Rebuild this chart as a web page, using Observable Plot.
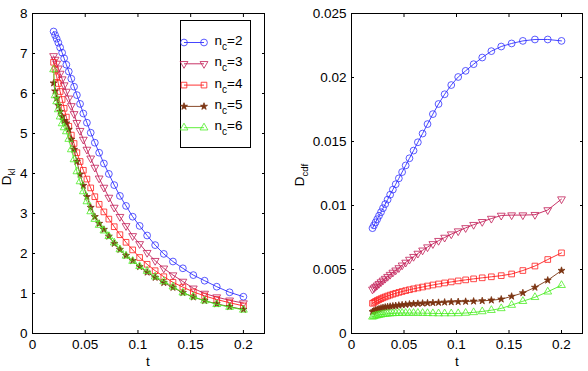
<!DOCTYPE html>
<html>
<head>
<meta charset="utf-8">
<script src="https://cdn.jsdelivr.net/npm/d3@7"></script>
<script src="https://cdn.jsdelivr.net/npm/@observablehq/plot@0.6"></script>
<style>
  body { margin: 0; background: #fff; }
  #wrap { position: relative; width: 588px; height: 371px; overflow: hidden; font-family: "Liberation Sans", Arial, Helvetica, sans-serif; }
  #wrap > svg { position: absolute; top: 0; }
</style>
</head>
<body>
<div id="wrap"></div>
<script>
// ---- data ----
const tValues = [0.02, 0.0214, 0.0229, 0.0245, 0.0262, 0.0281, 0.0300, 0.0321, 0.0344, 0.0368,
  0.0394, 0.0421, 0.0451, 0.0482, 0.0516, 0.0552, 0.0591, 0.0632, 0.0677, 0.0724,
  0.0775, 0.0829, 0.0887, 0.0950, 0.1016, 0.1087, 0.1163, 0.1245, 0.1332, 0.1426,
  0.1525, 0.1632, 0.1747, 0.1869, 0.2];

const ncValues = [2, 3, 4, 5, 6];

const dklNc2 = [7.55, 7.46, 7.37, 7.27, 7.15, 7.02, 6.88, 6.72, 6.55, 6.37, 6.17, 5.96, 5.74, 5.50, 5.27, 5.02, 4.77, 4.52, 4.25, 3.99, 3.71, 3.44, 3.19, 2.92, 2.69, 2.45, 2.21, 1.99, 1.80, 1.63, 1.46, 1.32, 1.17, 1.03, 0.92];
const dklNc3 = [6.94, 6.85, 6.75, 6.63, 6.50, 6.36, 6.21, 6.05, 5.88, 5.69, 5.49, 5.27, 5.07, 4.85, 4.60, 4.38, 4.15, 3.88, 3.65, 3.40, 3.15, 2.92, 2.69, 2.44, 2.24, 2.02, 1.82, 1.63, 1.46, 1.30, 1.13, 1.00, 0.91, 0.83, 0.76];
const dklNc4 = [6.78, 6.60, 6.42, 6.25, 6.05, 5.85, 5.63, 5.41, 5.18, 4.96, 4.75, 4.52, 4.30, 4.08, 3.86, 3.64, 3.42, 3.23, 3.04, 2.86, 2.67, 2.47, 2.28, 2.09, 1.90, 1.73, 1.57, 1.42, 1.28, 1.16, 1.04, 0.94, 0.85, 0.77, 0.69];
const dklNc5 = [6.26, 6.06, 5.88, 5.70, 5.55, 5.42, 5.32, 5.26, 5.10, 4.85, 4.60, 4.30, 3.98, 3.70, 3.42, 3.15, 2.92, 2.75, 2.60, 2.43, 2.25, 2.10, 1.95, 1.82, 1.67, 1.53, 1.40, 1.27, 1.15, 1.02, 0.91, 0.82, 0.74, 0.67, 0.60];
const dklNc6 = [6.60, 5.95, 5.80, 5.60, 5.42, 5.25, 5.15, 5.05, 4.86, 4.60, 4.35, 4.05, 3.80, 3.55, 3.30, 3.05, 2.86, 2.71, 2.57, 2.43, 2.27, 2.10, 1.94, 1.81, 1.68, 1.56, 1.42, 1.30, 1.17, 1.02, 0.92, 0.82, 0.73, 0.66, 0.59];

const dcdfNc2 = [0.00823, 0.00845, 0.00868, 0.00893, 0.00920, 0.00948, 0.00979, 0.01011, 0.01046, 0.01084, 0.01124, 0.01166, 0.01212, 0.01261, 0.01313, 0.01369, 0.01429, 0.01494, 0.01562, 0.01636, 0.01714, 0.01793, 0.01869, 0.01941, 0.02004, 0.02052, 0.02104, 0.02156, 0.02206, 0.02242, 0.02266, 0.02286, 0.02297, 0.02297, 0.02286];
const dcdfNc3 = [0.00345, 0.00355, 0.00366, 0.00377, 0.00389, 0.00402, 0.00415, 0.00429, 0.00444, 0.00460, 0.00477, 0.00494, 0.00512, 0.00533, 0.00555, 0.00578, 0.00600, 0.00625, 0.00650, 0.00675, 0.00700, 0.00725, 0.00750, 0.00776, 0.00800, 0.00825, 0.00850, 0.00873, 0.00898, 0.00922, 0.00925, 0.00925, 0.00928, 0.00965, 0.01050];
const dcdfNc4 = [0.00236, 0.00243, 0.00251, 0.00258, 0.00265, 0.00272, 0.00279, 0.00286, 0.00293, 0.00300, 0.00307, 0.00314, 0.00321, 0.00328, 0.00335, 0.00342, 0.00349, 0.00356, 0.00363, 0.00371, 0.00379, 0.00387, 0.00395, 0.00403, 0.00411, 0.00419, 0.00427, 0.00435, 0.00443, 0.00452, 0.00465, 0.00492, 0.00527, 0.00578, 0.00630];
const dcdfNc5 = [0.00170, 0.00176, 0.00182, 0.00187, 0.00192, 0.00197, 0.00201, 0.00205, 0.00208, 0.00211, 0.00214, 0.00217, 0.00220, 0.00223, 0.00226, 0.00229, 0.00232, 0.00234, 0.00236, 0.00238, 0.00240, 0.00242, 0.00244, 0.00246, 0.00248, 0.00250, 0.00252, 0.00255, 0.00260, 0.00268, 0.00290, 0.00317, 0.00360, 0.00416, 0.00492];
const dcdfNc6 = [0.00130, 0.00134, 0.00138, 0.00141, 0.00144, 0.00147, 0.00150, 0.00152, 0.00154, 0.00156, 0.00157, 0.00158, 0.00159, 0.00160, 0.00160, 0.00160, 0.00160, 0.00160, 0.00159, 0.00158, 0.00157, 0.00156, 0.00156, 0.00156, 0.00157, 0.00160, 0.00165, 0.00172, 0.00182, 0.00196, 0.00222, 0.00252, 0.00283, 0.00326, 0.00377];

const xTicks = [0, 0.05, 0.1, 0.15, 0.2];
const dklTicks = [0, 1, 2, 3, 4, 5, 6, 7, 8];
const dcdfTicks = [0, 0.005, 0.01, 0.015, 0.02, 0.025];

// ---- styles ----
const colors = ["#3030ff", "#c21d57", "#ff1c1c", "#7b3411", "#4cee25"];
const triangleDown = {
  draw(context, size) {
    const s3 = Math.sqrt(3);
    const y = -Math.sqrt(size / (s3 * 3));
    context.moveTo(0, -y * 2);
    context.lineTo(-s3 * y, y);
    context.lineTo(s3 * y, y);
    context.closePath();
  }
};
const symbols = [d3.symbolCircle, triangleDown, d3.symbolSquare, d3.symbolStar, d3.symbolTriangle];
const radii = [3.4, 2.9, 3.2, 2.2, 2.9];
const filled = [false, false, false, true, false];
const FONT = "'Liberation Sans', Arial, Helvetica, sans-serif";
const FS = 13.5;

const dklSeries = [dklNc2, dklNc3, dklNc4, dklNc5, dklNc6];
const dcdfSeries = [dcdfNc2, dcdfNc3, dcdfNc4, dcdfNc5, dcdfNc6];

const fmt = d => String(d);
const blank = () => "";

function panel(series, yDomain, yTicks, marginLeft, marginRight) {
  const marks = [
    Plot.axisX(xTicks, {anchor: "bottom", tickSize: 0, tickPadding: 6, tickFormat: fmt, label: null}),
    Plot.axisX(xTicks, {anchor: "bottom", tickSize: 3, dy: -3, tickFormat: blank, label: null}),
    Plot.axisX(xTicks, {anchor: "top", tickSize: 3, dy: 3, tickFormat: blank, label: null}),
    Plot.axisY(yTicks, {anchor: "left", tickSize: 0, tickPadding: 5, tickFormat: fmt, label: null}),
    Plot.axisY(yTicks, {anchor: "left", tickSize: 3, dx: 3, tickFormat: blank, label: null}),
    Plot.axisY(yTicks, {anchor: "right", tickSize: 3, dx: -3, tickFormat: blank, label: null})
  ];
  series.forEach((vals, k) => {
    const rows = vals.map((v, i) => ({t: tValues[i], v, nc: ncValues[k]}));
    marks.push(Plot.line(rows, {x: "t", y: "v", stroke: colors[k], strokeWidth: 0.9}));
    marks.push(Plot.dot(rows, {x: "t", y: "v", symbol: symbols[k], r: radii[k],
      stroke: colors[k], strokeWidth: 0.8, fill: filled[k] ? colors[k] : "none"}));
  });
  marks.push(Plot.frame({stroke: "#000", strokeWidth: 1}));
  return Plot.plot({
    width: 294, height: 371,
    marginTop: 13, marginBottom: 38, marginLeft, marginRight,
    x: {domain: [0, 0.22]},
    y: {domain: yDomain},
    style: {fontFamily: FONT, fontSize: FS + "px", color: "#000", background: "none", overflow: "visible"},
    marks
  });
}

const wrap = document.getElementById("wrap");
const left = panel(dklSeries, [0, 8], dklTicks, 32, 30);
left.style.left = "0px";
wrap.appendChild(left);
const right = panel(dcdfSeries, [0, 0.025], dcdfTicks, 57, 6);
right.style.left = "294px";
wrap.appendChild(right);

// ---- overlay: axis labels and legend ----
const ov = d3.select(wrap).append("svg")
  .attr("width", 588).attr("height", 371)
  .style("position", "absolute").style("left", "0px").style("top", "0px")
  .attr("font-family", FONT).attr("font-size", FS).attr("fill", "#000");

ov.append("text").attr("x", 148).attr("y", 366).attr("text-anchor", "middle").text("t");
ov.append("text").attr("x", 457).attr("y", 366).attr("text-anchor", "middle").text("t");

function yLabel(x, y, main, sub) {
  const t = ov.append("text").attr("transform", `translate(${x},${y}) rotate(-90)`).attr("text-anchor", "middle");
  t.append("tspan").text(main);
  t.append("tspan").attr("dy", 4).attr("font-size", 9.5).text(sub);
}
yLabel(10.5, 177, "D", "kl");
yLabel(303.5, 175, "D", "cdf");

const lg = ov.append("g").attr("transform", "translate(180.5,20.5)");
lg.append("rect").attr("width", 70).attr("height", 127).attr("fill", "#fff").attr("stroke", "#000");
ncValues.forEach((nc, k) => {
  const y = 22 + k * 21.3;
  lg.append("line").attr("x1", 3.5).attr("x2", 23.5).attr("y1", y).attr("y2", y)
    .attr("stroke", colors[k]).attr("stroke-width", 0.9);
  [3.5, 23.5].forEach(x => {
    lg.append("path")
      .attr("d", d3.symbol(symbols[k], Math.PI * radii[k] * radii[k])())
      .attr("transform", `translate(${x},${y})`)
      .attr("stroke", colors[k]).attr("stroke-width", 0.8)
      .attr("fill", filled[k] ? colors[k] : "none");
  });
  const tx = lg.append("text").attr("x", 34).attr("y", y + 2.5);
  tx.append("tspan").text("n");
  tx.append("tspan").attr("dy", 5).attr("font-size", 10).text("c");
  tx.append("tspan").attr("dy", -5).text("=" + nc);
});
</script>
</body>
</html>
